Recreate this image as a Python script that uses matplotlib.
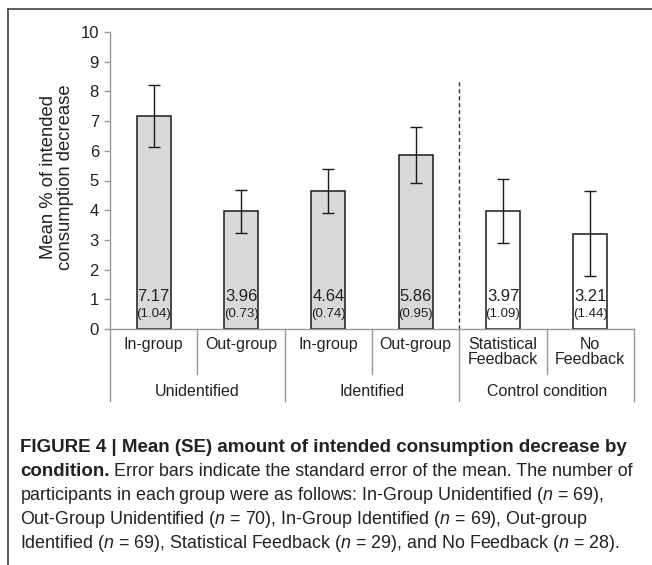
import numpy as np
import matplotlib.pyplot as plt
from matplotlib.lines import Line2D

plt.rcParams['font.family'] = ['Liberation Sans', 'DejaVu Sans']
plt.rcParams['mathtext.fontset'] = 'custom'
plt.rcParams['mathtext.it'] = 'Liberation Sans:italic'
plt.rcParams['mathtext.rm'] = 'Liberation Sans'

# data
categories = ['In-group', 'Out-group', 'In-group', 'Out-group',
              'Statistical\nFeedback', 'No\nFeedback']
groups = ['Unidentified', 'Identified', 'Control condition']
means = [7.17, 3.96, 4.64, 5.86, 3.97, 3.21]
se = [1.04, 0.73, 0.74, 0.95, 1.09, 1.44]
colors = ['#d9d9d9'] * 4 + ['white'] * 2

W, H = 652, 565
fig = plt.figure(figsize=(W / 100, H / 100), dpi=100)
ax = fig.add_axes([110 / W, 1 - 329 / H, (634 - 110) / W, (329 - 32) / H])

x = np.arange(len(means))
ax.bar(x, means, width=0.39, color=colors, edgecolor='#1a1a1a', linewidth=1.1, zorder=2)
ax.errorbar(x, means, yerr=se, fmt='none', ecolor='#1a1a1a', elinewidth=1.0,
            capsize=4, capthick=1.0, zorder=3)

for xi, m, s in zip(x, means, se):
    ax.text(xi, 1.08, f'{m:.2f}', ha='center', va='center', fontsize=12, color='#222222')
    ax.text(xi, 0.52, f'({s:.2f})', ha='center', va='center', fontsize=9.5, color='#222222')

ax.set_xlim(-0.5, 5.5)
ax.set_ylim(0, 10)
ax.set_yticks(range(0, 11))
ax.set_xticks([])
ax.tick_params(axis='y', direction='out', length=4, width=1, color='#999999',
               labelsize=12, labelcolor='#222222', pad=4)
for side in ['top', 'right']:
    ax.spines[side].set_visible(False)
ax.spines['left'].set_color('#999999')
ax.spines['bottom'].set_color('#999999')
ax.spines['left'].set_linewidth(1.0)
ax.spines['bottom'].set_linewidth(1.0)

tr = ax.get_xaxis_transform()
# dividers under the axis
for xd in [0.5, 2.5, 4.5]:
    ax.add_line(Line2D([xd, xd], [0, -0.1515], transform=tr, color='#999999',
                       lw=1.0, clip_on=False))
for xd in [-0.5, 1.5, 3.5, 5.5]:
    ax.add_line(Line2D([xd, xd], [0, -0.2424], transform=tr, color='#999999',
                       lw=1.0, clip_on=False))
# dashed separator for the control condition
ax.add_line(Line2D([3.5, 3.5], [0, 0.842], transform=tr, color='#333333',
                   lw=1.0, ls=(0, (3, 2)), clip_on=False))

for xi, c in zip(x, categories):
    ax.text(xi, -0.028, c, transform=tr, ha='center', va='top', fontsize=11.5,
            color='#222222', linespacing=1.0)
for gi, g in enumerate(groups):
    ax.text(gi * 2 + 0.5, -0.209, g, transform=tr, ha='center', va='center',
            fontsize=11.5, color='#222222')

fig.text(57 / W, 1 - 177 / H, 'Mean % of intended\nconsumption decrease', rotation=90,
         ha='center', va='center', fontsize=13.3, color='#222222', linespacing=1.05)

# outer frame
fig.add_artist(Line2D([8 / W, 8 / W], [0, 1 - 9 / H], transform=fig.transFigure,
                      color='#444444', lw=1.2))
fig.add_artist(Line2D([8 / W, 1], [1 - 9 / H, 1 - 9 / H], transform=fig.transFigure,
                      color='#444444', lw=1.2))

# caption
cx = 20 / W
fs = 12.9
fig.text(cx, 1 - 447 / H, 'FIGURE 4 | Mean (SE) amount of intended consumption decrease by',
         fontsize=13.5, fontweight='bold', color='#222222', va='center')
t = fig.text(cx, 1 - 472 / H, 'condition.', fontsize=13.5, fontweight='bold',
             color='#222222', va='center')
fig.canvas.draw()
bb = t.get_window_extent(fig.canvas.get_renderer())
fig.text(bb.x1 / W + 4 / W, 1 - 472 / H,
         'Error bars indicate the standard error of the mean. The number of',
         fontsize=fs, color='#222222', va='center')
lines = [
    'participants in each group were as follows: In-Group Unidentified ($n$ = 69),',
    'Out-Group Unidentified ($n$ = 70), In-Group Identified ($n$ = 69), Out-group',
    'Identified ($n$ = 69), Statistical Feedback ($n$ = 29), and No Feedback ($n$ = 28).',
]
for i, ln in enumerate(lines):
    fig.text(cx, 1 - (496 + 24 * i) / H, ln, fontsize=fs, color='#222222', va='center')

fig.savefig('out.png', dpi=100)
